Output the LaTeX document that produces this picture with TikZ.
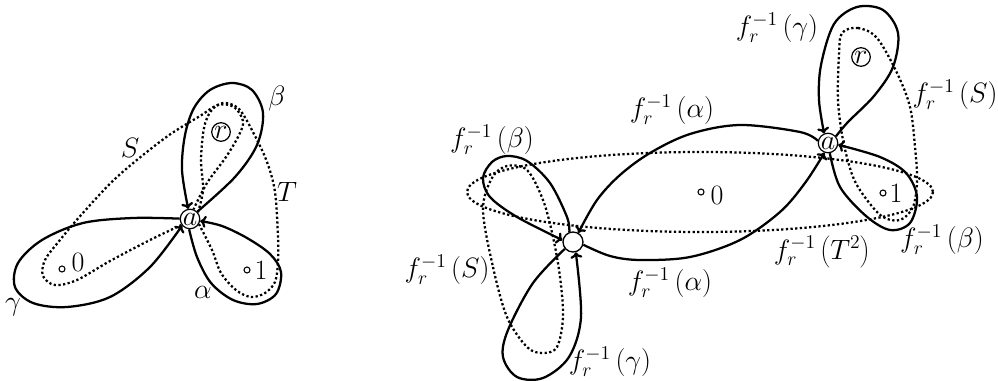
\documentclass[tikz,border=0pt]{standalone}
\usepackage{fix-cm}
\usetikzlibrary{arrows.meta,backgrounds}
\begin{document}
\begin{tikzpicture}[x=0.75pt,y=-0.75pt,
  every node/.style={font=\fontsize{21}{25}\selectfont},
  pt/.style={circle,draw,line width=0.9pt,fill=white,inner sep=0.2pt},
  hole/.style={circle,draw,line width=1pt,fill=white,minimum size=15pt,inner sep=0pt},
  dotpt/.style={circle,draw,line width=0.8pt,fill=white,minimum size=4.5pt,inner sep=0pt},
  loopline/.style={line width=1.7pt},
  arr/.style={loopline,-{To[length=4.5pt,width=9pt]}},
  dotline/.style={line width=1.7pt,dash pattern=on 1.7pt off 1.8pt},
  lbl/.style={inner sep=0pt}
]
\useasboundingbox (0,0) rectangle (998,381);

% ---------- left figure nodes ----------
\node[pt] (a1) at (190,219) {$a$};
\node[pt] (r1) at (221,132) {$r$};
\node[dotpt] (z1) at (62,269) {};
\node[lbl] (z1l) at (78,262) {$0$};
\node[dotpt] (o1) at (247,270) {};
\node[lbl] (o1l) at (261,270) {$1$};

% ---------- right figure nodes ----------
\node[pt] (a2) at (828,143) {$a$};
\node[pt] (r2) at (861,57) {$r$};
\node[hole] (c2) at (573,242) {};
\node[dotpt] (z2) at (701,192) {};
\node[lbl] (z2l) at (717,195) {$0$};
\node[dotpt] (o2) at (883,193) {};
\node[lbl] (o2l) at (896,193) {$1$};

\begin{pgfonlayer}{background}
% ---------- left figure curves ----------
% beta
\draw[arr] plot[smooth,tension=0.55] coordinates {(a1.45) (235,177) (257,145) (263,113) (252,90) (232,83) (210,90) (194,108) (185,135) (182,170) (a1.100)};
% gamma
\draw[arr] plot[smooth,tension=0.55] coordinates {(a1.178) (133,218) (83,223) (42,240) (18,263) (15,287) (33,303) (67,307) (110,297) (150,267) (a1.220)};
% alpha
\draw[arr] plot[smooth,tension=0.55] coordinates {(a1.265) (197,257) (211,283) (233,300) (257,304) (276,294) (281,272) (270,254) (247,238) (222,226) (a1.349)};
% S
\draw[dotline] plot[smooth,tension=0.55] coordinates {(a1.215) (150,240) (110,261) (77,280) (55,285) (43,276) (45,260) (60,240) (82,214) (117,177) (165,138) (200,116) (218,105) (234,107) (243,121) (239,135) (226,157) (207,183) (a1.70)};
% T
\draw[dotline] plot[smooth,tension=0.55] coordinates {(a1.40) (203,190) (201,160) (204,128) (211,111) (223,103) (239,109) (254,134) (267,162) (275,192) (278,237) (278,262) (275,282) (265,293) (251,297) (236,290) (221,273) (212,250) (a1.330)};

% ---------- right figure curves ----------
% f^{-1}(alpha) upper
\draw[arr] plot[smooth,tension=0.55] coordinates {(a2.168) (800,132) (740,125) (690,134) (650,153) (620,175) (597,200) (c2.60)};
% f^{-1}(alpha) lower
\draw[arr] plot[smooth,tension=0.55] coordinates {(c2.-15) (610,256) (640,260) (690,257) (740,240) (780,212) (805,183) (a2.250)};
% f^{-1}(gamma) top
\draw[arr] plot[smooth,tension=0.55] coordinates {(a2.40) (848,122) (874,96) (893,67) (898,33) (883,10) (857,7) (834,24) (821,65) (819,100) (a2.112)};
% f^{-1}(beta) right
\draw[arr] plot[smooth,tension=0.55] coordinates {(a2.280) (840,187) (866,216) (890,230) (910,223) (917,197) (906,173) (880,157) (a2.350)};
% f^{-1}(beta) left
\draw[arr] plot[smooth,tension=0.55] coordinates {(c2.110) (567,217) (550,183) (527,161) (507,156) (492,162) (483,178) (490,197) (517,217) (c2.170)};
% f^{-1}(gamma) bottom
\draw[arr] plot[smooth,tension=0.55] coordinates {(c2.220) (533,283) (508,330) (503,357) (517,377) (543,378) (569,357) (581,317) (c2.285)};
% f^{-1}(T^2)
\draw[dotline] (700,192) ellipse [x radius=233, y radius=40];
% f^{-1}(S) right
\draw[dotline] plot[smooth cycle,tension=0.55] coordinates {(842,33) (858,28) (877,38) (897,73) (910,107) (915,147) (917,180) (913,207) (900,220) (883,217) (867,200) (853,177) (843,140) (838,100) (839,55)};
% f^{-1}(S) left
\draw[dotline] plot[smooth cycle,tension=0.55] coordinates {(483,210) (493,267) (507,317) (527,347) (543,353) (557,347) (563,317) (560,277) (553,237) (543,200) (527,170) (507,166) (492,178)};
\end{pgfonlayer}

% ---------- labels ----------
\node[lbl] (Sl) at (130,148) {$S$};
\node[lbl] (bl) at (277,99) {$\beta$};
\node[lbl] (Tl) at (287,192) {$T$};
\node[lbl] (al) at (203,292) {$\alpha$};
\node[lbl] (gl) at (13,307) {$\gamma$};

\node[lbl] (fg1) at (777,28) {$f_r^{-1}\left(\gamma\right)$};
\node[lbl] (fS1) at (955,95) {$f_r^{-1}\left(S\right)$};
\node[lbl] (fa1) at (672,110) {$f_r^{-1}\left(\alpha\right)$};
\node[lbl] (fb1) at (492,140) {$f_r^{-1}\left(\beta\right)$};
\node[lbl] (fT) at (822,252) {$f_r^{-1}\left(T^2\right)$};
\node[lbl] (fb2) at (942,240) {$f_r^{-1}\left(\beta\right)$};
\node[lbl] (fa2) at (670,283) {$f_r^{-1}\left(\alpha\right)$};
\node[lbl] (fS2) at (447,270) {$f_r^{-1}\left(S\right)$};
\node[lbl] (fg2) at (610,362) {$f_r^{-1}\left(\gamma\right)$};
\end{tikzpicture}
\end{document}
